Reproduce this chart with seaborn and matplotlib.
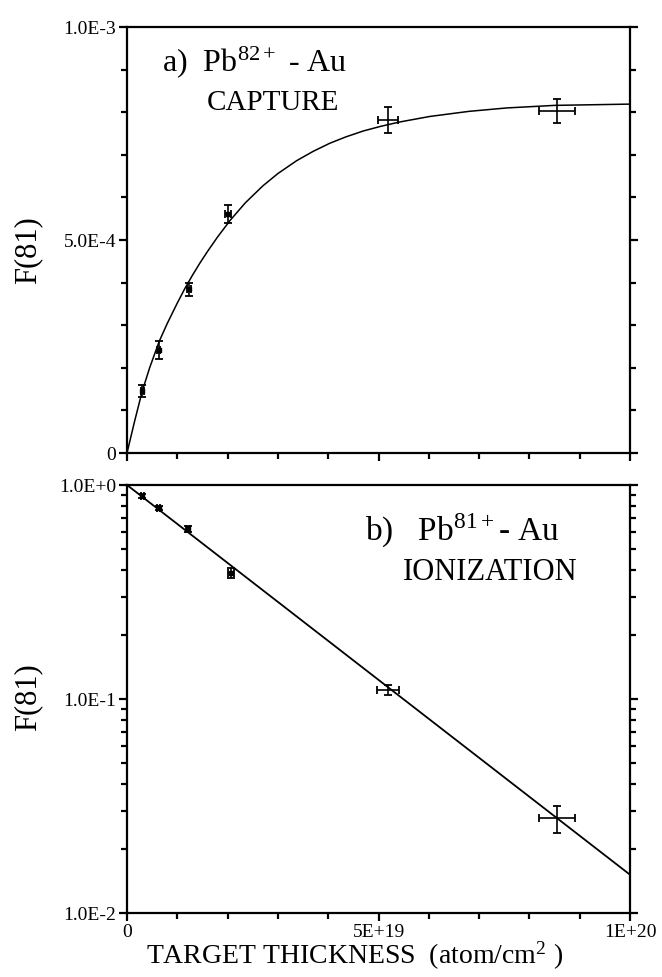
import numpy as np
import pandas as pd
import seaborn as sns
import matplotlib.pyplot as plt
from matplotlib.ticker import FixedLocator, MultipleLocator, LogLocator, NullFormatter

# panel a) capture, F(81) vs target thickness
cap_x = [0.306e19, 0.636e19, 1.233e19, 2.01e19, 5.19e19, 8.55e19]
cap_y = [1.46e-4, 2.42e-4, 3.84e-4, 5.61e-4, 7.82e-4, 8.03e-4]
cap_xerr = [0.03e19, 0.03e19, 0.04e19, 0.06e19, 0.20e19, 0.35e19]
cap_yerr = [0.14e-4, 0.22e-4, 0.16e-4, 0.20e-4, 0.30e-4, 0.28e-4]
# fitted curve
cap_fit_x = [0, 0.15e19, 0.3e19, 0.45e19, 0.64e19, 0.8e19, 1.0e19, 1.15e19, 1.3e19,
             1.45e19, 1.6e19, 1.8e19, 2.05e19, 2.35e19, 2.7e19, 3.0e19, 3.37e19,
             3.7e19, 4.03e19, 4.35e19, 4.7e19, 5.05e19, 5.42e19, 6.02e19, 6.8e19,
             7.55e19, 8.5e19, 10.0e19]
cap_fit_y = [0, 0.74e-4, 1.44e-4, 2.00e-4, 2.62e-4, 3.04e-4, 3.52e-4, 3.86e-4, 4.17e-4,
             4.46e-4, 4.73e-4, 5.07e-4, 5.46e-4, 5.87e-4, 6.27e-4, 6.56e-4, 6.86e-4,
             7.08e-4, 7.27e-4, 7.42e-4, 7.56e-4, 7.67e-4, 7.77e-4, 7.90e-4, 8.02e-4,
             8.10e-4, 8.16e-4, 8.19e-4]

# panel b) ionization
ion_x = [0.306e19, 0.636e19, 1.21e19, 2.06e19, 5.19e19, 8.55e19]
ion_y = [0.885, 0.781, 0.625, 0.388, 0.110, 0.0277]
ion_xerr = [0.03e19, 0.03e19, 0.04e19, 0.06e19, 0.215e19, 0.35e19]
ion_yerr = [0.02, 0.02, 0.02, 0.02, 0.006, 0.004]
ion_fit_x = [0, 10.0e19]
ion_fit_y = [1.0, 0.0151]

x_ticks = [0, 5e19, 1e20]
x_labels = ["0", "5E+19", "1E+20"]
top_yticks = [0, 5e-4, 1e-3]
top_ylabels = ["0", "5.0E-4", "1.0E-3"]
bot_yticks = [1e-2, 1e-1, 1.0]
bot_ylabels = ["1.0E-2", "1.0E-1", "1.0E+0"]

sns.set_theme(style="ticks")
plt.rcParams['font.family'] = ['Liberation Serif', 'DejaVu Serif']
plt.rcParams['mathtext.fontset'] = 'stix'
plt.rcParams['text.color'] = 'black'
plt.rcParams['axes.labelcolor'] = 'black'

fig = plt.figure(figsize=(6.62, 9.77), dpi=100)
ax1 = fig.add_axes([127/662, 1-453/977, 503/662, 426/977])
ax2 = fig.add_axes([127/662, 1-913/977, 503/662, 428/977])

fit_a = pd.DataFrame({"x": cap_fit_x, "y": cap_fit_y})
fit_b = pd.DataFrame({"x": ion_fit_x, "y": ion_fit_y})
sns.lineplot(data=fit_a, x="x", y="y", ax=ax1, color="black", linewidth=1.1, sort=False)
sns.lineplot(data=fit_b, x="x", y="y", ax=ax2, color="black", linewidth=1.3, sort=False)

for ax, xs, ys, xe, ye in [(ax1, cap_x, cap_y, cap_xerr, cap_yerr),
                           (ax2, ion_x, ion_y, ion_xerr, ion_yerr)]:
    ax.errorbar(xs, ys, xerr=xe, yerr=ye, fmt='none', ecolor='black',
                elinewidth=1.2, capsize=3, capthick=1.3)
    ax.scatter(xs[:4], ys[:4], s=10, marker='s', color='black', zorder=3)

ax1.set_xlim(0, 1e20)
ax1.set_ylim(0, 1e-3)
ax2.set_xlim(0, 1e20)
ax2.set_yscale('log')
ax2.set_ylim(1e-2, 1.0)

for ax in (ax1, ax2):
    ax.set_xlabel("")
    ax.set_ylabel("")
    for s in ax.spines.values():
        s.set_linewidth(1.6)
        s.set_color("black")
    ax.xaxis.set_major_locator(FixedLocator(x_ticks))
    ax.xaxis.set_minor_locator(MultipleLocator(1e19))
    ax.tick_params(axis='both', which='both', direction='out', color='black',
                   labelcolor='black', width=1.6, right=True, top=False)
    ax.tick_params(axis='both', which='major', length=6, labelsize=14, pad=2)
    ax.tick_params(axis='both', which='minor', length=4)

ax1.set_xticks(x_ticks)
ax1.set_xticklabels([])
ax1.set_yticks(top_yticks)
ax1.set_yticklabels(top_ylabels)
ax1.yaxis.set_minor_locator(MultipleLocator(1e-4))

ax2.set_xticks(x_ticks)
ax2.set_xticklabels(x_labels)
ax2.set_yticks(bot_yticks)
ax2.set_yticklabels(bot_ylabels)
ax2.yaxis.set_minor_locator(LogLocator(base=10, subs=np.arange(2, 10)))
ax2.yaxis.set_minor_formatter(NullFormatter())

ax1.text(0.07, 0.894, r"a)  Pb$^{\mathregular{82+}}$ - Au", transform=ax1.transAxes,
         fontsize=23, va='baseline', ha='left')
ax1.text(0.159, 0.805, "CAPTURE", transform=ax1.transAxes,
         fontsize=21, va='baseline', ha='left')
ax2.text(0.473, 0.871, r"b)   Pb$^{\mathregular{81+}}$- Au", transform=ax2.transAxes,
         fontsize=24, va='baseline', ha='left')
ax2.text(0.549, 0.778, "IONIZATION", transform=ax2.transAxes,
         fontsize=22, va='baseline', ha='left')

fig.text(0.042, 0.744, "F(81)", rotation=90, fontsize=22, ha='center', va='center')
fig.text(0.042, 0.286, "F(81)", rotation=90, fontsize=22, ha='center', va='center')
fig.text(0.536, 0.005, r"TARGET THICKNESS  (atom/cm$^{\mathregular{2}}$ )",
         fontsize=20, ha='center', va='bottom')

fig.savefig("out.png", dpi=100, facecolor="white")
